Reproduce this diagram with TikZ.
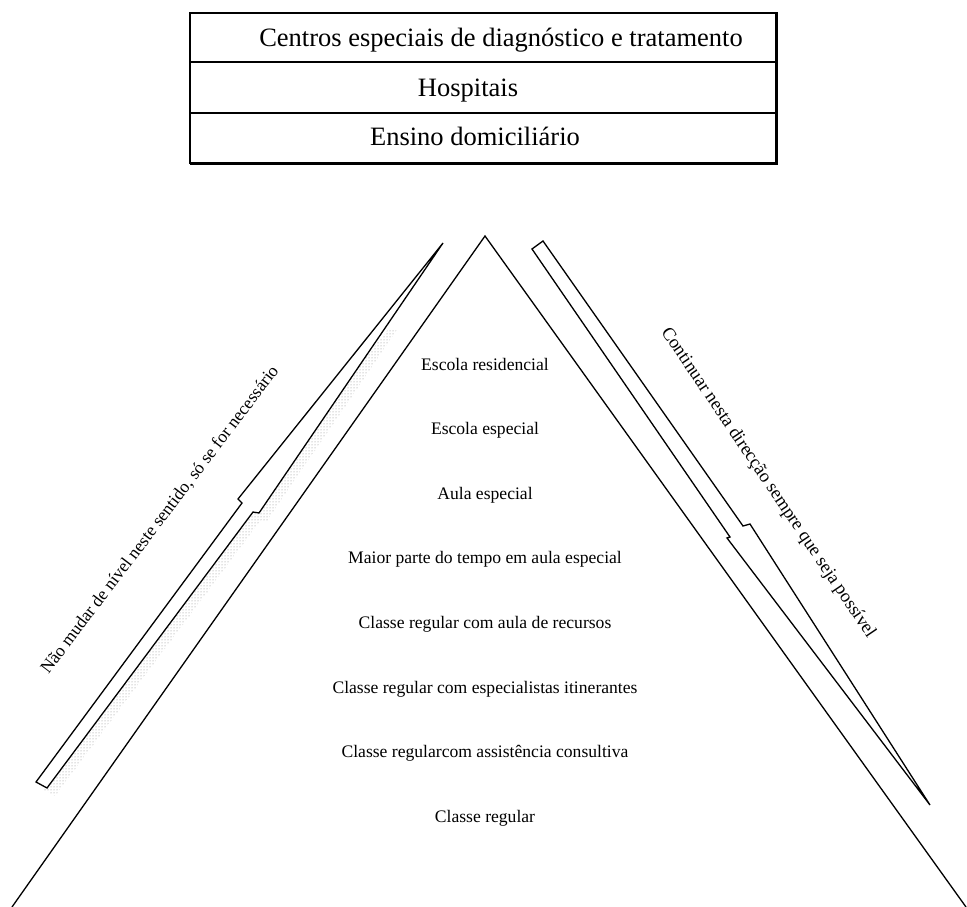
\documentclass[tikz,border=0pt]{standalone}
\usepackage{fontspec}
\setmainfont{Liberation Serif}
\usetikzlibrary{patterns}
\tikzset{
  edge/.style={line width=1.3pt, line join=miter},
  bigtxt/.style={font=\fontsize{26.5}{30}\selectfont, inner sep=0pt, anchor=base},
  lvltxt/.style={font=\fontsize{17.6}{20}\selectfont, inner sep=0pt, anchor=base},
  sidetxt/.style={font=\fontsize{17.6}{20}\selectfont, inner sep=0pt},
  arrowshape/.style={line width=1.3pt, line join=miter, fill=white, draw=black}
}
\begin{document}
\begin{tikzpicture}[x=1pt,y=-1pt]
\useasboundingbox (0,0) rectangle (967,907);
\fill[white] (0,0) rectangle (967,907);

% ---- table at the top
\coordinate (tl) at (190,13);
\coordinate (br) at (776,163);
\draw[line width=1.4pt] (tl) rectangle (br);
\draw[line width=1.4pt] (190,62) -- (776,62);
\draw[line width=1.4pt] (190,113) -- (776,113);
\draw[line width=2.6pt] (190,163.5) -- (777.5,163.5);
\draw[line width=2.6pt] (776.5,12.3) -- (776.5,164.5);
\node[bigtxt] (r1) at (501,47) {Centros especiais de diagnóstico e tratamento};
\node[bigtxt] (r2) at (468,96) {Hospitais};
\node[bigtxt] (r3) at (475,145) {Ensino domiciliário};

% ---- pyramid
\coordinate (apex) at (485,236);
\coordinate (pl) at (12,907);
\coordinate (pr) at (966,907);
\draw[edge] (pl) -- (apex) -- (pr);

\node[lvltxt] (l1) at (485,370) {Escola residencial};
\node[lvltxt] (l2) at (485,434.6) {Escola especial};
\node[lvltxt] (l3) at (485,499.2) {Aula especial};
\node[lvltxt] (l4) at (485,563.8) {Maior parte do tempo em aula especial};
\node[lvltxt] (l5) at (485,628.4) {Classe regular com aula de recursos};
\node[lvltxt] (l6) at (485,693) {Classe regular com especialistas itinerantes};
\node[lvltxt] (l7) at (485,757.6) {Classe regularcom assistência consultiva};
\node[lvltxt] (l8) at (485,822.2) {Classe regular};

% ---- left arrow (pointing up), with dotted shadow
\begin{scope}
  \clip (0,330) rectangle (967,907);
  \begin{scope}[shift={(8,8)}]
    \fill[pattern=dots, pattern color=gray!90]
      (36,782) -- (242,503) -- (238,499) -- (443,243) -- (259,513) -- (253,512) -- (47,788) -- cycle;
  \end{scope}
\end{scope}
\coordinate (La) at (36,782);
\coordinate (Lb) at (242,503);
\coordinate (Lc) at (238,499);
\coordinate (Ltip) at (443,243);
\coordinate (Ld) at (259,513);
\coordinate (Le) at (253,512);
\coordinate (Lf) at (47,788);
\draw[arrowshape] (La) -- (Lb) -- (Lc) -- (Ltip) -- (Ld) -- (Le) -- (Lf) -- cycle;
\node[sidetxt, rotate=52.8] (ltxt) at (160,520) {Não mudar de nível neste sentido, só se for necessário};

% ---- right arrow (pointing down)
\coordinate (Ra) at (532,249);
\coordinate (Rb) at (543,241);
\coordinate (Rc) at (743,526);
\coordinate (Rd) at (750,524);
\coordinate (Rtip) at (930,805);
\coordinate (Re) at (727,538);
\coordinate (Rf) at (730,537);
\draw[arrowshape] (Ra) -- (Rb) -- (Rc) -- (Rd) -- (Rtip) -- (Re) -- (Rf) -- cycle;
\node[sidetxt, font=\fontsize{18.4}{21}\selectfont, rotate=-56] (rtxt) at (768,483) {Continuar nesta direcção sempre que seja possível};
\end{tikzpicture}
\end{document}
